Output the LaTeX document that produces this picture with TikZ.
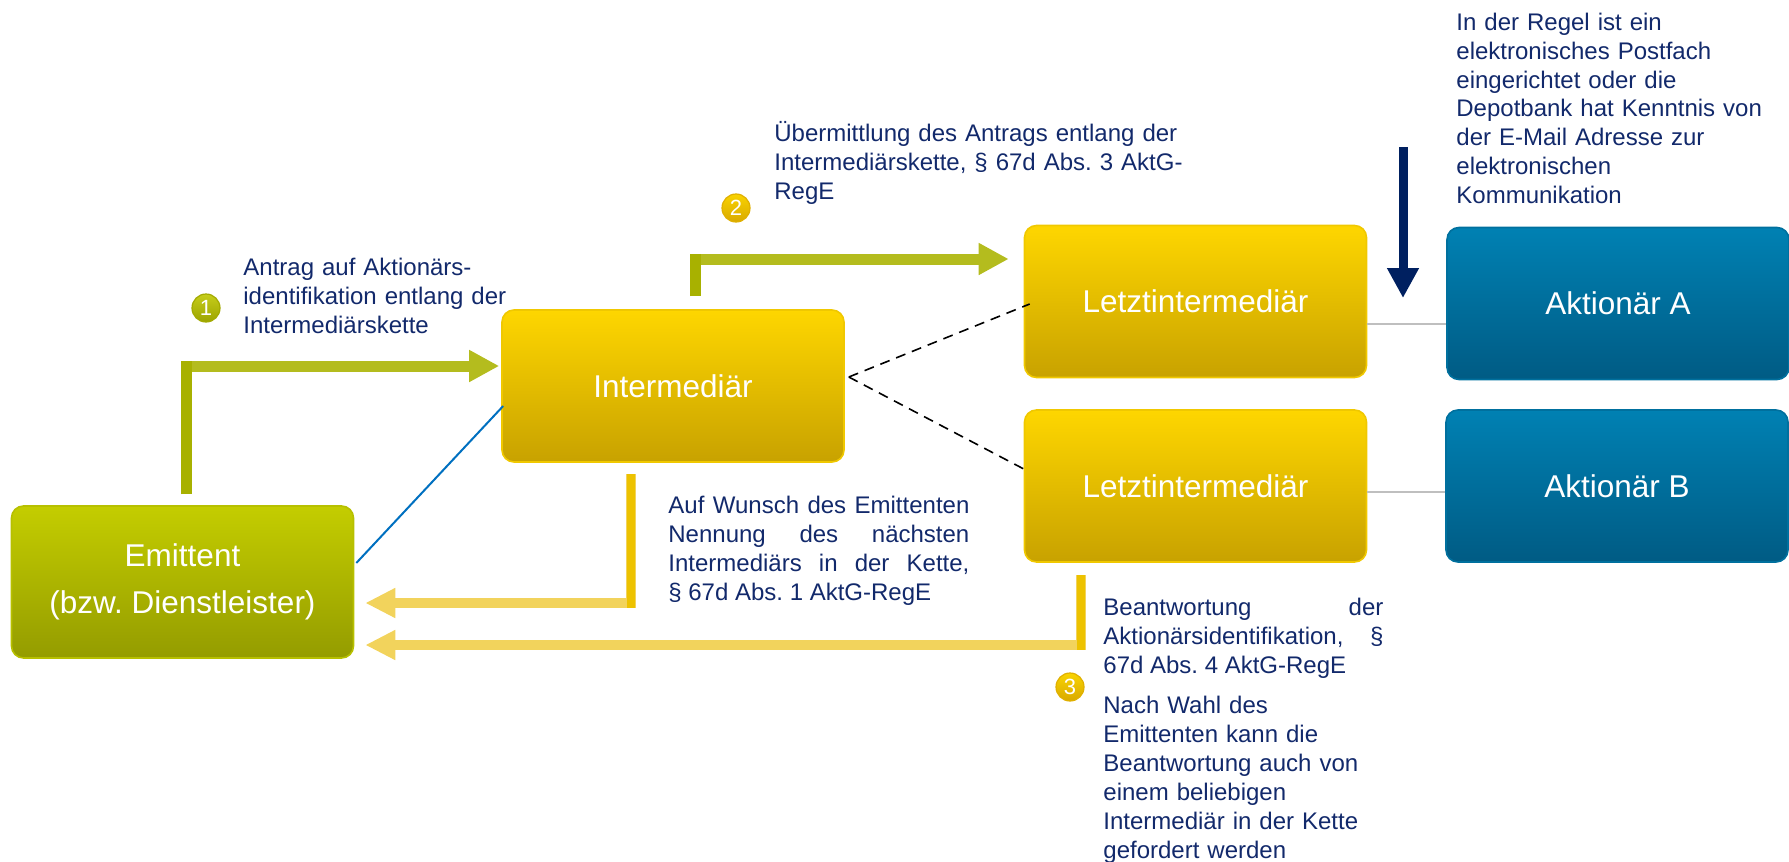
\documentclass[tikz,border=0pt]{standalone}
\usepackage{fontspec}
\setmainfont{Liberation Sans}
\usetikzlibrary{arrows.meta,calc}
\hyphenpenalty=10000
\tolerance=10000
\frenchspacing
\definecolor{txt}{HTML}{12296B}
\definecolor{olv}{HTML}{B4BC1E}
\definecolor{olvd}{HTML}{A8B100}
\definecolor{ylw}{HTML}{F2D35C}
\definecolor{ylwd}{HTML}{EDC200}
\definecolor{navy}{HTML}{002060}
\definecolor{emtop}{HTML}{C4CD00}
\definecolor{embot}{HTML}{949C00}
\definecolor{embd}{HTML}{B7C000}
\definecolor{intop}{HTML}{FED600}
\definecolor{inbot}{HTML}{C8A200}
\definecolor{inbd}{HTML}{F0C800}
\definecolor{aktop}{HTML}{0081B3}
\definecolor{akbot}{HTML}{005B84}
\definecolor{akbd}{HTML}{00709E}
\definecolor{blu}{HTML}{0070C0}
\definecolor{gry}{HTML}{BFBFBF}
\definecolor{c1top}{HTML}{C6CD1A}
\definecolor{c1bot}{HTML}{9CA400}
\definecolor{c1bd}{HTML}{A3AA00}
\definecolor{c2top}{HTML}{F9D300}
\definecolor{c2bot}{HTML}{D9A900}
\definecolor{c2bd}{HTML}{E0B000}
\begin{document}
\frenchspacing
\begin{tikzpicture}[x=0.5pt,y=-0.5pt,
  box/.style={rounded corners=6pt, minimum width=171pt, minimum height=76pt, inner sep=0pt,
    text=white, font=\fontsize{15.75}{23.5}\selectfont, align=center, line width=0.8pt},
  emitbox/.style={box, top color=emtop, bottom color=embot, draw=embd},
  intbox/.style={box, top color=intop, bottom color=inbot, draw=inbd},
  aktbox/.style={box, top color=aktop, bottom color=akbot, draw=akbd},
  note/.style={text=txt, font=\fontsize{12}{14.5}\selectfont,
    inner sep=0pt, anchor=base west, align=left},
  numa/.style={circle, minimum size=14pt, inner sep=0pt, text=white, draw=c1bd, line width=0.6pt,
    font=\fontsize{11}{11}\selectfont, top color=c1top, bottom color=c1bot},
  numb/.style={numa, draw=c2bd, top color=c2top, bottom color=c2bot},
  olvarrow/.style={olv, line width=5.5pt, -{Triangle[width=15pt,length=15pt]}},
  retarrow/.style={ylw, line width=5pt, -{Triangle[width=14pt,length=15pt]}},
  navyarrow/.style={navy, line width=4.5pt, -{Triangle[width=15pt,length=15pt]}},
]
\useasboundingbox (0,0) rectangle (1789,862);

% boxes
\node[emitbox] (emit) at (182.5,582) {Emittent\\(bzw. Dienstleister)};
\node[intbox] (int) at (673,386) {Intermediär};
\node[intbox] (la) at (1195.5,301.5) {Letztintermediär};
\node[intbox] (lb) at (1195.5,486) {Letztintermediär};
\node[aktbox] (aa) at (1618,303.5) {Aktionär A};
\node[aktbox] (ab) at (1617,486) {Aktionär B};

% free ends
\coordinate (a1s) at (186,494);
\coordinate (a2s) at (695,296);
\coordinate (r1s) at (631,474);
\coordinate (r2s) at (1081,575);
\coordinate (ns) at (1403,147);
\coordinate (ne) at (1403,298);

% arrow 1
\draw[olvarrow] (a1s) |- ([yshift=10pt,xshift=-1pt]int.west);
\draw[olvd, line width=5.5pt] (a1s) -- ($(a1s |- int.west)+(0,-25)$);
% arrow 2
\draw[olvarrow] (a2s) |- ([yshift=21.25pt,xshift=-7.5pt]la.west);
\draw[olvd, line width=5.5pt] (a2s) -- ($(a2s |- la.west)+(0,-48)$);
% return arrows
\draw[retarrow] (r1s) |- ([yshift=-10.5pt,xshift=5.5pt]emit.east);
\draw[ylwd, line width=4pt] (r1s) -- ($(r1s |- emit.east)+(0,26)$);
\draw[retarrow] (r2s) |- ([yshift=-31.5pt,xshift=5.5pt]emit.east);
\draw[ylwd, line width=4pt] (r2s) -- ($(r2s |- emit.east)+(0,68)$);
% navy arrow
\draw[navyarrow] (ns) -- (ne);
% blue line
\draw[blu, line width=1pt] ([yshift=9.5pt,xshift=1pt]emit.east) -- ([yshift=-10pt,xshift=1pt]int.west);
% dashed
\draw[dashed, dash pattern=on 5pt off 3.5pt, line width=0.8pt] ([yshift=4.5pt,xshift=2pt]int.east) -- ([xshift=3pt,yshift=-1.25pt]la.west);
\draw[dashed, dash pattern=on 5pt off 3.5pt, line width=0.8pt] ([yshift=4.5pt,xshift=2pt]int.east) -- ([xshift=1pt,yshift=8pt]lb.west);
% gray
\draw[gry, line width=1.25pt] ([yshift=-11.25pt]la.east) -- ([yshift=-11.25pt]la.east -| aa.west);
\draw[gry, line width=1.25pt] ([yshift=-3pt]lb.east) -- ([yshift=-3pt]lb.east -| ab.west);

% numbers
\node[numa] (c1) at (206,308) {1};
\node[numb] (c2) at (736,208) {2};
\node[numb] (c3) at (1070,687) {3};

% notes
\node[note, text width=150pt] (t1) at (243,275) {Antrag auf Aktionärs-\\identifikation entlang der\\Intermediärskette};
\node[note, text width=210pt] (t2) at (774,141) {Übermittlung des Antrags entlang der\\Intermediärskette, § 67d Abs. 3 AktG-\\RegE};
\node[note, text width=165pt] (t3) at (1456,30) {In der Regel ist ein\\elektronisches Postfach\\eingerichtet oder die\\Depotbank hat Kenntnis von\\der E-Mail Adresse zur\\elektronischen\\Kommunikation};
\node[note, text width=150.5pt, align=justify] (t4) at (668,513) {Auf Wunsch des Emittenten\linebreak Nennung des nächsten\linebreak Intermediärs in der Kette,\linebreak § 67d Abs. 1 AktG-RegE};
\node[note, text width=140pt, align=justify] (t5) at (1103,615) {Beantwortung der\linebreak Aktionärsidentifikation, §\linebreak 67d Abs. 4 AktG-RegE};
\node[note, text width=150pt] (t6) at (1103,713) {Nach Wahl des\\Emittenten kann die\\Beantwortung auch von\\einem beliebigen\\Intermediär in der Kette\\gefordert werden};
\end{tikzpicture}
\end{document}
